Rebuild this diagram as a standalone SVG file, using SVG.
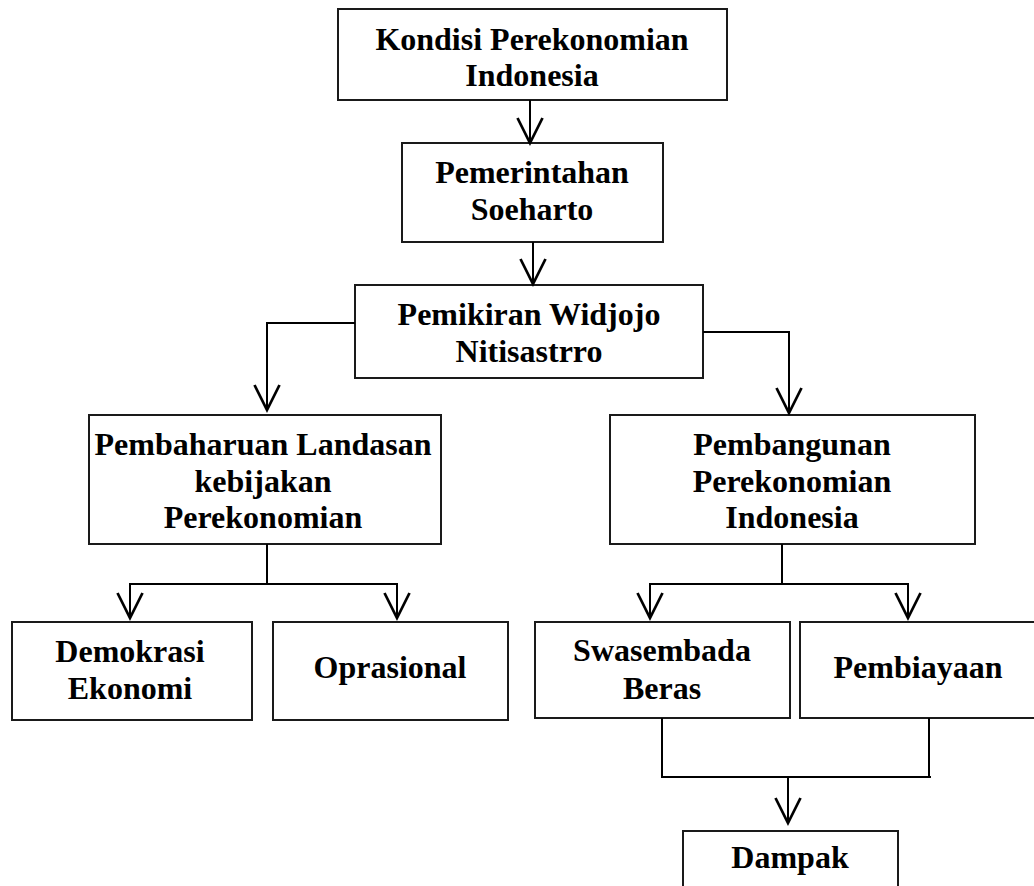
<svg xmlns="http://www.w3.org/2000/svg" width="1034" height="886" viewBox="0 0 1034 886">
<defs>
<style>
.box{fill:#fff;stroke:#1a1a1a;stroke-width:2}
.t{font-family:"Liberation Serif","Times New Roman",serif;font-weight:bold;font-size:32px;fill:#000;text-anchor:middle}
.c{fill:none;stroke:#000;stroke-width:2}
</style>
<marker id="arr" markerUnits="userSpaceOnUse" markerWidth="30" markerHeight="30" viewBox="-22 -12 24 24" refX="0" refY="0" orient="auto" overflow="visible">
<path d="M-20,-10 L0,0 L-20,10" fill="none" stroke="#000" stroke-width="2.2"/>
</marker>
</defs>
<rect width="1034" height="886" fill="#fff"/>
<g id="n1"><rect class="box" x="338" y="9" width="389" height="91"/><text class="t" x="532" y="50">Kondisi Perekonomian</text><text class="t" x="532" y="86">Indonesia</text></g>
<g id="n2"><rect class="box" x="402" y="143" width="261" height="99"/><text class="t" x="532" y="183">Pemerintahan</text><text class="t" x="532" y="220">Soeharto</text></g>
<g id="n3"><rect class="box" x="355" y="285" width="348" height="93"/><text class="t" x="529" y="325">Pemikiran Widjojo</text><text class="t" x="529" y="362">Nitisastrro</text></g>
<g id="n4"><rect class="box" x="89" y="415" width="352" height="129"/><text class="t" x="263" y="455">Pembaharuan Landasan</text><text class="t" x="263" y="492">kebijakan</text><text class="t" x="263" y="528">Perekonomian</text></g>
<g id="n5"><rect class="box" x="610" y="415" width="365" height="129"/><text class="t" x="792" y="455">Pembangunan</text><text class="t" x="792" y="492">Perekonomian</text><text class="t" x="792" y="528">Indonesia</text></g>
<g id="n6"><rect class="box" x="12" y="622" width="240" height="98"/><text class="t" x="130" y="662">Demokrasi</text><text class="t" x="130" y="699">Ekonomi</text></g>
<g id="n7"><rect class="box" x="273" y="622" width="235" height="98"/><text class="t" x="390" y="678">Oprasional</text></g>
<g id="n8"><rect class="box" x="535" y="622" width="255" height="96"/><text class="t" x="662" y="661">Swasembada</text><text class="t" x="662" y="699">Beras</text></g>
<g id="n9"><rect class="box" x="800" y="622" width="240" height="96"/><text class="t" x="918" y="678">Pembiayaan</text></g>
<g id="n10"><rect class="box" x="683" y="831" width="215" height="70"/><text class="t" x="790" y="868">Dampak</text></g>
<g id="connectors">
<path class="c" d="M530,100 V143" marker-end="url(#arr)"/>
<path class="c" d="M533,242 V284" marker-end="url(#arr)"/>
<path class="c" d="M355,323 H267 V410" marker-end="url(#arr)"/>
<path class="c" d="M703,332 H789 V413" marker-end="url(#arr)"/>
<path class="c" d="M267,544 V584"/>
<path class="c" d="M129,584 H398"/>
<path class="c" d="M130,584 V618" marker-end="url(#arr)"/>
<path class="c" d="M397,584 V618" marker-end="url(#arr)"/>
<path class="c" d="M782,544 V584"/>
<path class="c" d="M649,584 H909"/>
<path class="c" d="M650,584 V618" marker-end="url(#arr)"/>
<path class="c" d="M908,584 V618" marker-end="url(#arr)"/>
<path class="c" d="M662,718 V777 H931"/>
<path class="c" d="M929,718 V777"/>
<path class="c" d="M788,777 V823" marker-end="url(#arr)"/>
</g>
</svg>
